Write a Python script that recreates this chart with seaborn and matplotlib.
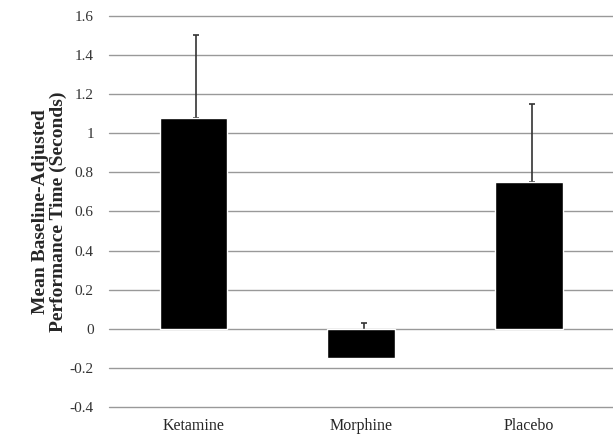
import matplotlib
matplotlib.use("Agg")
import matplotlib.pyplot as plt
import seaborn as sns
import numpy as np
import pandas as pd

groups = ["Ketamine", "Morphine", "Placebo"]
means = [1.08, -0.15, 0.75]
err_up = [0.42, 0.18, 0.40]
yticks = [-0.4, -0.2, 0, 0.2, 0.4, 0.6, 0.8, 1, 1.2, 1.4, 1.6]
ytick_labels = ["-0.4", "-0.2", "0", "0.2", "0.4", "0.6", "0.8", "1", "1.2", "1.4", "1.6"]

sns.set_style("white")
plt.rcParams["font.family"] = ["Liberation Serif", "DejaVu Serif"]

df = pd.DataFrame({"group": groups, "mean": means})

fig = plt.figure(figsize=(6.13, 4.42), dpi=100)
ax = fig.add_axes([0.178, 0.079, 0.822, 0.885])
sns.barplot(data=df, x="group", y="mean", color="black", width=0.4,
            saturation=1, ax=ax, zorder=3)
ax.errorbar(np.arange(len(groups)) + 0.02, means,
            yerr=[np.zeros(len(groups)), err_up],
            fmt="none", ecolor="#333333", elinewidth=1.2, capsize=2.5,
            capthick=1.2, zorder=2.5)

ax.set_ylim(-0.4, 1.6)
ax.set_xlim(-0.5, 2.5)
ax.set_yticks(yticks)
ax.set_yticklabels(ytick_labels, fontsize=11, color="#333333")
ax.tick_params(axis="x", labelsize=11.5, length=0, pad=8)
ax.tick_params(axis="y", length=0, pad=11)
ax.yaxis.grid(True, color="#999999", linewidth=1.0, zorder=0)
for gl in ax.get_ygridlines():
    gl.set_clip_on(False)
ax.set_axisbelow(True)
sns.despine(ax=ax, left=True, bottom=True, top=True, right=True)
ax.set_xlabel("")
ax.set_ylabel("Mean Baseline-Adjusted\nPerformance Time (Seconds)",
              fontsize=14, fontweight="bold", labelpad=2, linespacing=1.05)

fig.savefig("out.png", dpi=100)
